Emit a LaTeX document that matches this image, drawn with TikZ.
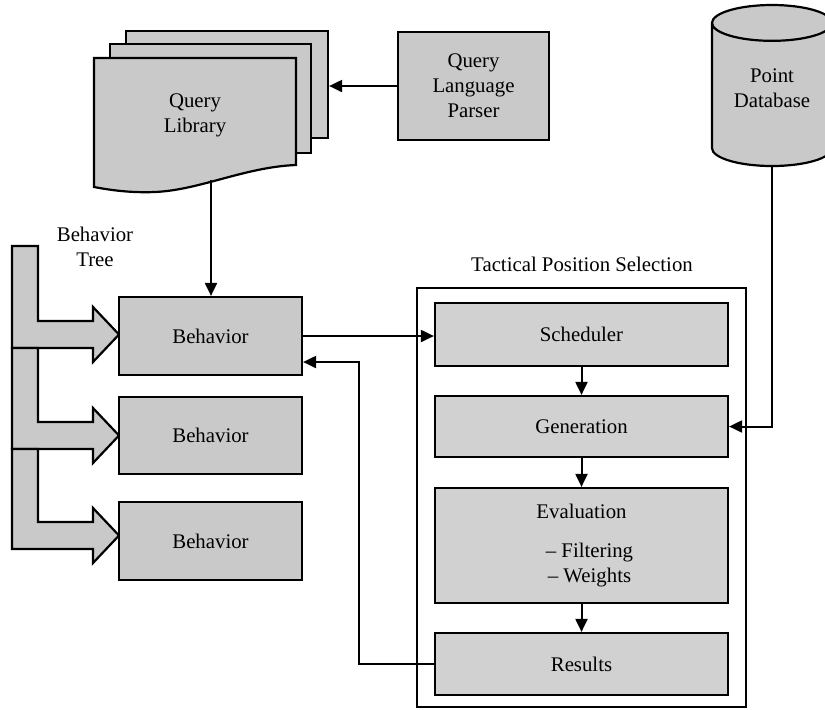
\documentclass[tikz,border=0pt]{standalone}
\usepackage{fontspec}
\setmainfont{Liberation Serif}
\usetikzlibrary{shapes.geometric,arrows.meta}

\tikzset{
  block/.style={draw, line width=1.1pt, fill=black!21, inner sep=0pt, align=center},
  tpsblock/.style={block, fill=black!18, minimum width=146.5pt},
  treearrow/.style={draw, line width=1.1pt, fill=black!21},
  conn/.style={line width=1pt, -{Triangle[length=6.5pt,width=6pt]}}
}

\begin{document}
\begin{tikzpicture}[x=0.5pt, y=-0.5pt]
  \fontsize{10.4}{12.5}\selectfont
  \useasboundingbox (0,0) rectangle (825,709);
  % Draw query library stack
  \node[block, minimum width=101pt, minimum height=53.5pt] (qback) at (227,84.5) {};
  \node[block, minimum width=100.5pt, minimum height=54.5pt] (qmid) at (210.5,98.5) {};
  \draw[line width=1.1pt, fill=black!21] (94,58) -- (296,58) -- (296,165)
    .. controls (245,167) and (200,190) .. (155,192)
    .. controls (130,193) and (110,190) .. (94,187) -- cycle;
  \node[align=center] (qlib) at (195,115) {Query\\Library};
  \coordinate (qlibout) at (211,180);
  \node[block, minimum width=75.5pt, minimum height=54pt] (qlp) at (473.5,86) {Query\\Language\\Parser};
  % Draw point database
  \node[draw, line width=1.1pt, fill=black!21, cylinder, shape border rotate=90, aspect=0.47,
    minimum width=60pt, minimum height=80.5pt, inner sep=0pt, align=center,
    anchor=shape center] (pdb) at (772,85.5) {Point\\Database\rule[-7pt]{0pt}{7pt}};
  % Draw behavior tree
  \foreach \t/\s in {246/321, 348/422, 449/522}
    \draw[treearrow] (12,\t) -- (38,\t) -- (38,\s) -- (93,\s) -- (93,\s-14) -- (119,\s+13.5)
      -- (93,\s+41) -- (93,\s+27) -- (12,\s+27) -- cycle;
  \node[align=center] (treelabel) at (95,247) {Behavior\\Tree};
  \node[block, minimum width=91.5pt, minimum height=39pt] (beh1) at (210.5,336) {Behavior};
  \node[block, minimum width=91.5pt, minimum height=38.5pt] (beh2) at (210.5,435.5) {Behavior};
  \node[block, minimum width=91.5pt, minimum height=39pt] (beh3) at (210.5,541) {Behavior};
  % Draw tactical position selection
  \node[draw, line width=1pt, minimum width=164.5pt, minimum height=209.5pt] (tps) at (581.5,497.5) {};
  \node (tpslabel) at (582,264) {Tactical Position Selection};
  \node[tpsblock, minimum height=31.5pt] (sched) at (581.5,334.5) {Scheduler};
  \node[tpsblock, minimum height=30.5pt] (gen) at (581.5,426.5) {Generation};
  \node[tpsblock, minimum height=57.5pt] (eval) at (581.5,545.5)
    {Evaluation\\[7pt]\hspace*{8pt}– Filtering\\\hspace*{8pt}– Weights};
  \node[tpsblock, minimum height=31pt] (res) at (581.5,664) {Results};
  % Draw connectors
  \draw[conn] (qlp.west) -- (qlp.west -| qback.east);
  \draw[conn] (qlibout) -- (qlibout |- beh1.north);
  \draw[conn] (beh1.east) -- (beh1.east -| sched.west);
  \draw[conn] (sched.south) -- (gen.north);
  \draw[conn] (gen.south) -- (eval.north);
  \draw[conn] (eval.south) -- (res.north);
  \draw[conn] (pdb.south) |- (gen.east);
  \coordinate (retcorner) at (359,362);
  \draw[conn] (res.west) -| (retcorner) -- (retcorner -| beh1.east);
\end{tikzpicture}
\end{document}
